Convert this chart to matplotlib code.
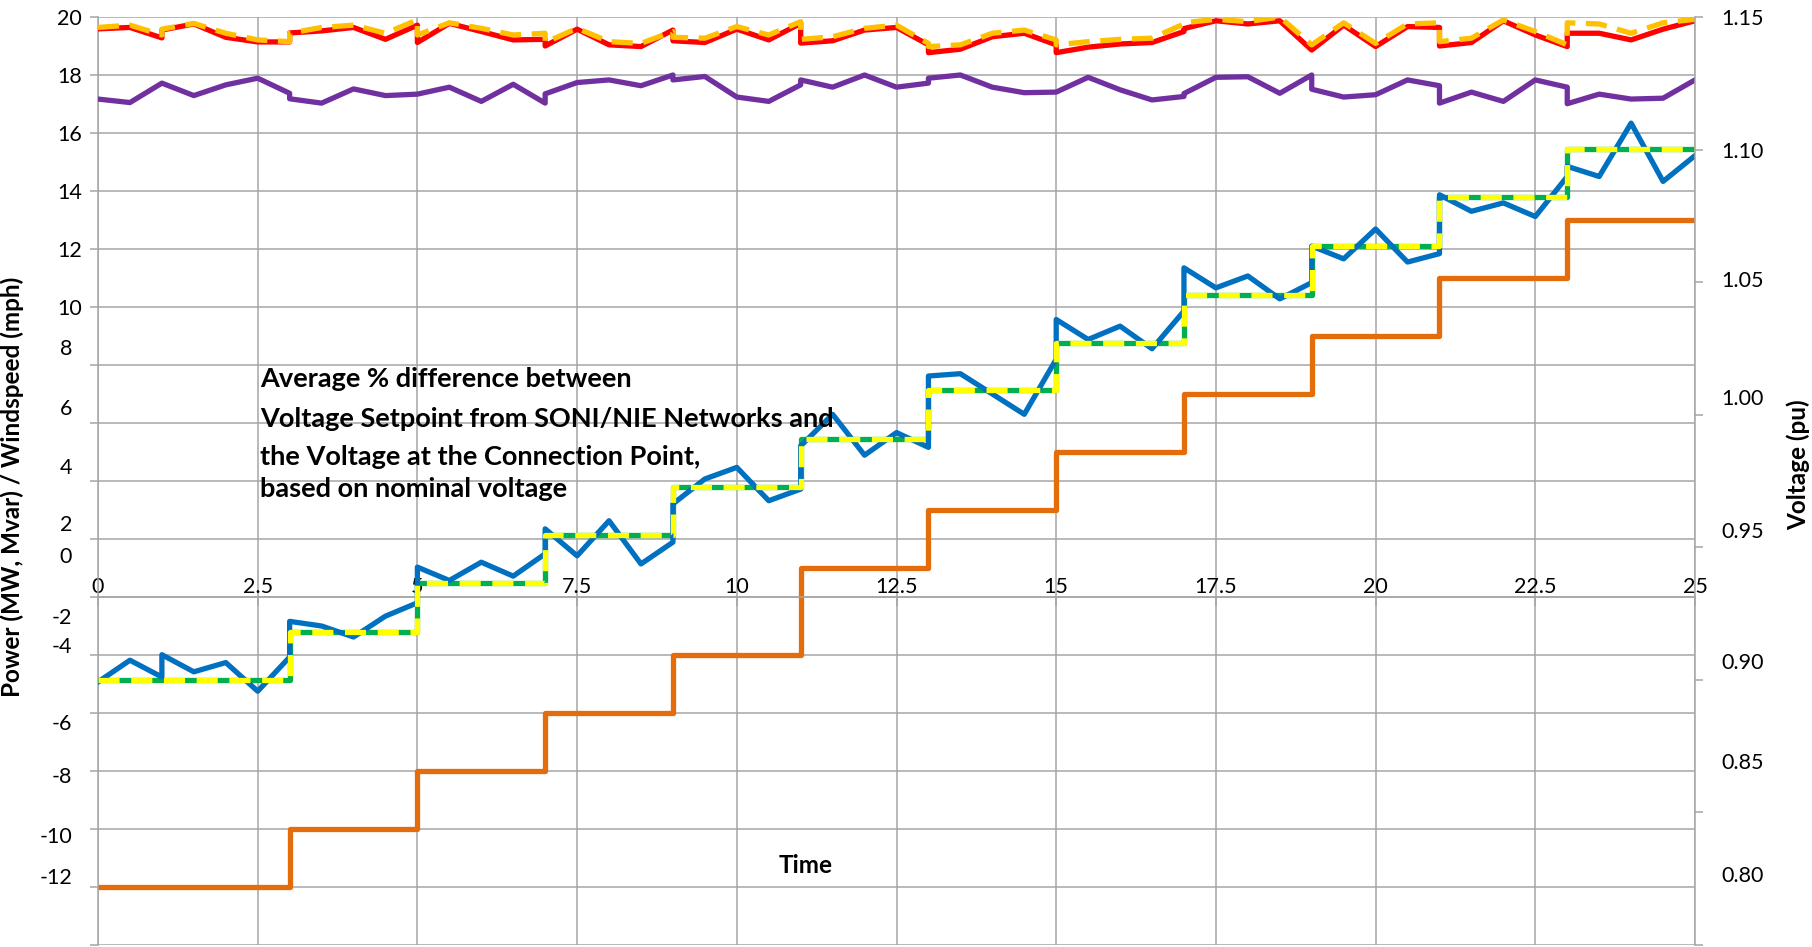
import matplotlib.pyplot as plt
from matplotlib.ticker import FixedLocator, FixedFormatter

plt.rcParams['font.family'] = ['Lato', 'DejaVu Sans']

# time axis (duplicate times give the vertical jumps at each setpoint change)
time = [0, 0.5, 1, 1, 1.5, 2, 2.5, 3, 3, 3.5, 4, 4.5, 5, 5, 5.5, 6, 6.5, 7, 7, 7.5,
        8, 8.5, 9, 9, 9.5, 10, 10.5, 11, 11, 11.5, 12, 12.5, 13, 13, 13.5, 14, 14.5,
        15, 15, 15.5, 16, 16.5, 17, 17, 17.5, 18, 18.5, 19, 19, 19.5, 20, 20.5, 21, 21,
        21.5, 22, 22.5, 23, 23, 23.5, 24, 24.5, 25]

conn_voltage = [19.59, 19.64, 19.28, 19.55, 19.76, 19.3, 19.14, 19.14, 19.45, 19.52, 19.64,
                19.23, 19.72, 19.12, 19.78, 19.5, 19.21, 19.23, 19.0, 19.58, 19.04, 18.98,
                19.55, 19.18, 19.12, 19.58, 19.21, 19.78, 19.1, 19.18, 19.55, 19.64, 19.04,
                18.77, 18.89, 19.32, 19.44, 19.04, 18.77, 18.96, 19.07, 19.12, 19.5, 19.6,
                19.87, 19.76, 19.87, 18.86, 18.86, 19.72, 18.98, 19.67, 19.64, 19.0, 19.12,
                19.87, 19.38, 18.98, 19.44, 19.44, 19.21, 19.58, 19.87]

setpoint_voltage = [19.64, 19.72, 19.38, 19.58, 19.78, 19.44, 19.21, 19.15, 19.44, 19.64,
                    19.72, 19.44, 19.9, 19.38, 19.8, 19.61, 19.38, 19.44, 19.12, 19.61,
                    19.15, 19.09, 19.5, 19.3, 19.27, 19.67, 19.38, 19.84, 19.23, 19.32,
                    19.61, 19.72, 19.09, 18.98, 19.04, 19.44, 19.55, 19.21, 19.04, 19.15,
                    19.23, 19.27, 19.76, 19.8, 19.92, 19.84, 20.0, 19.04, 19.04, 19.8,
                    19.09, 19.76, 19.8, 19.15, 19.27, 19.9, 19.5, 19.04, 19.8, 19.76,
                    19.44, 19.8, 19.92]

windspeed = [17.17, 17.05, 17.72, 17.72, 17.29, 17.66, 17.89, 17.37, 17.18, 17.03, 17.52,
             17.29, 17.34, 17.34, 17.58, 17.09, 17.68, 17.03, 17.35, 17.74, 17.83, 17.63,
             18.0, 17.83, 17.95, 17.24, 17.09, 17.66, 17.83, 17.58, 18.0, 17.58, 17.72,
             17.89, 18.0, 17.58, 17.39, 17.41, 17.41, 17.92, 17.49, 17.14, 17.26, 17.36,
             17.92, 17.94, 17.37, 18.0, 17.51, 17.24, 17.32, 17.83, 17.63, 17.03, 17.41,
             17.09, 17.83, 17.58, 17.01, 17.34, 17.17, 17.2, 17.83]

reactive_power = [-2.93, -2.18, -2.76, -1.99, -2.58, -2.26, -3.25, -2.07, -0.84, -1.0, -1.38,
                  -0.66, -0.2, 1.03, 0.57, 1.2, 0.72, 1.49, 2.35, 1.42, 2.63, 1.14, 1.89,
                  3.21, 4.07, 4.47, 3.32, 3.72, 5.21, 6.3, 4.89, 5.67, 5.16, 7.62, 7.7, 7.0,
                  6.3, 8.2, 9.57, 8.88, 9.34, 8.56, 9.86, 11.35, 10.66, 11.07, 10.28, 10.84,
                  12.1, 11.66, 12.69, 11.55, 11.84, 13.87, 13.3, 13.59, 13.12, 14.5, 14.85,
                  14.5, 16.34, 14.33, 15.22]

# step series
step_time = [0, 3, 5, 7, 9, 11, 13, 15, 17, 19, 21, 23, 25]
reactive_setpoint = [-2.87, -1.19, 0.49, 2.14, 3.8, 5.44, 7.13, 8.77, 10.43, 12.1, 13.8,
                     15.45, 15.45]
active_power = [-10, -8, -6, -4, -2, 1, 3, 5, 7, 9, 11, 13, 13]

x_ticks = [0, 2.5, 5, 7.5, 10, 12.5, 15, 17.5, 20, 22.5, 25]
x_labels = ['0', '2.5', '5', '7.5', '10', '12.5', '15', '17.5', '20', '22.5', '25']

left_grid = list(range(-12, 21, 2))
left_top_labels = ['20', '18', '16', '14', '12', '10']
left_low_pos = [8.61, 6.55, 4.51, 2.55, 1.45, -0.65, -1.64, -4.30, -6.15, -8.22, -9.63]
left_low_labels = ['8', '6', '4', '2', '0', '-2', '-4', '-6', '-8', '-10', '-12']

right_ticks = [0.80, 0.85, 0.90, 0.95, 1.00, 1.05, 1.10, 1.15]
right_label_pos = [0.8268, 0.8693, 0.907, 0.9566, 1.0067, 1.051, 1.0999, 1.15]
right_labels = ['0.80', '0.85', '0.90', '0.95', '1.00', '1.05', '1.10', '1.15']

note_lines = ['Average % difference between',
              'Voltage Setpoint from SONI/NIE Networks and',
              'the Voltage at the Connection Point,',
              'based on nominal voltage']
note_y = [7.51, 6.13, 4.82, 3.72]

grid_c = '#A6A6A6'
lw = 3.8
fsize = 15.5

fig = plt.figure(figsize=(18.12, 9.47), dpi=100)
ax = fig.add_axes([98 / 1812, 2 / 947, 1597 / 1812, 928 / 947])

ax.step(step_time, active_power, where='post', color='#E46C0A', lw=lw, zorder=2)
ax.step(step_time, reactive_setpoint, where='post', color='#00B050', lw=lw, zorder=3)
ax.plot(time, reactive_power, color='#0070C0', lw=lw, zorder=4)
ax.step(step_time, reactive_setpoint, where='post', color='#FFFF00', lw=lw,
        dashes=(4, 2.2), zorder=5)
ax.plot(time, windspeed, color='#7030A0', lw=lw, zorder=4)
ax.plot(time, conn_voltage, color='#FF0000', lw=lw, zorder=4)
ax.plot(time, setpoint_voltage, color='#FFC000', lw=lw, dashes=(4, 2), zorder=5)

ax.set_xlim(0, 25)
ax.set_ylim(-12, 20)
ax.set_xticks(x_ticks)
ax.set_xticklabels(x_labels)
ax.set_yticks(left_grid)
ax.set_yticklabels([str(v) if str(v) in left_top_labels else '' for v in left_grid])
ax.yaxis.set_minor_locator(FixedLocator(left_low_pos))
ax.yaxis.set_minor_formatter(FixedFormatter(left_low_labels))
ax.yaxis.remove_overlapping_locs = False

ax.tick_params(axis='y', which='major', length=5.8, width=1.1, color=grid_c, pad=5.8,
               labelsize=fsize)
ax.tick_params(axis='y', which='minor', length=0, pad=18.7, labelsize=fsize)
ax.tick_params(axis='x', which='major', direction='out', length=6.5, width=1.1,
               color=grid_c, pad=-20.9, labelsize=fsize)

ax.spines['bottom'].set_position(('data', 0))
ax.spines['top'].set_visible(False)
ax.spines['right'].set_visible(False)
for s in ['left', 'bottom']:
    ax.spines[s].set_color(grid_c)
    ax.spines[s].set_linewidth(1.1)
ax.grid(True, which='major', color=grid_c, lw=1.1)
ax.set_axisbelow(True)

ax2 = ax.twinx()
ax2.set_ylim(0.80, 1.15)
ax2.set_yticks(right_ticks)
ax2.set_yticklabels([''] * len(right_ticks))
ax2.yaxis.set_minor_locator(FixedLocator(right_label_pos))
ax2.yaxis.set_minor_formatter(FixedFormatter(right_labels))
ax2.yaxis.remove_overlapping_locs = False
ax2.tick_params(axis='y', which='major', length=5.8, width=1.1, color=grid_c)
ax2.tick_params(axis='y', which='minor', length=0, pad=18.7, labelsize=fsize)
for s in ['left', 'top', 'bottom']:
    ax2.spines[s].set_visible(False)
ax2.spines['right'].set_color(grid_c)
ax2.spines['right'].set_linewidth(1.1)

ax.set_ylabel('Power (MW, Mvar) / Windspeed (mph)', fontsize=17.5, fontweight='bold')
ax.yaxis.set_label_coords(-0.0462, 0.4935)
ax2.set_ylabel('Voltage (pu)', fontsize=17.5, fontweight='bold')
ax2.yaxis.set_label_coords(1.0575, 0.518)

ax.text(11.07, -9.25, 'Time', fontsize=17.5, fontweight='bold', ha='center', va='center')
for line, y in zip(note_lines, note_y):
    ax.text(2.54, y, line, fontsize=19.5, fontweight='bold', ha='left', va='center', zorder=6)

fig.savefig('out.png', dpi=100)
